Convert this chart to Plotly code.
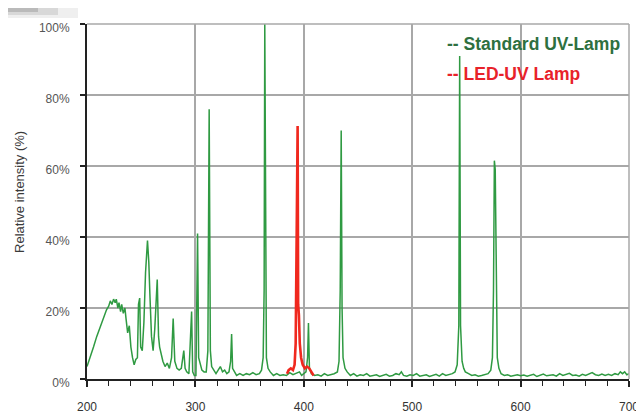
import plotly.graph_objects as go

# ---------------- data ----------------
std_wavelength = [
    200, 203, 206, 209, 212, 215, 218, 220, 221.5, 223, 224.5, 226, 227, 228.5, 229.5, 231, 232, 233.5,
    235, 236, 237.5, 239, 240.5, 242, 243.5, 245, 246.5, 247.5, 248.6, 249.5, 251, 252.5, 254, 255.8,
    257, 258, 259.5, 261, 262.5, 264.8, 266, 267, 268.5, 270, 272, 274, 276, 278, 279.5, 281, 283, 285,
    287, 289.3, 290.5, 292, 294, 295.5, 296.5, 297.5, 299, 300.5, 301.2, 302, 303, 304.5, 306, 308, 310,
    311.5, 312.7, 313.8, 315, 317, 319, 321, 323, 325, 327, 329, 331, 332.5, 333.4, 334.3, 336, 338,
    341, 344, 347, 350, 353, 356, 359, 361, 362.5, 363.4, 364, 364.7, 365.5, 367, 369, 372, 375, 378,
    381, 384, 387, 390, 393, 396, 398, 400, 402, 403.5, 404.3, 405.2, 407, 410, 413, 416, 419, 422,
    425, 428, 431, 432.5, 433.6, 434.5, 435.3, 436.2, 438, 440, 443, 446, 449, 452, 455, 458, 461, 464,
    467, 470, 473, 476, 479, 482, 485, 488, 490, 492, 495, 498, 501, 504, 507, 510, 513, 516, 519, 522,
    525, 528, 531, 534, 537, 539.5, 541.5, 543, 543.8, 544.6, 546, 547.5, 549, 552, 555, 558, 561, 564,
    567, 570, 572.5, 574, 575, 575.8, 576.6, 577.4, 578.5, 580, 582, 585, 588, 591, 594, 597, 600, 603,
    606, 609, 612, 615, 618, 621, 624, 627, 630, 633, 636, 639, 642, 645, 648, 651, 654, 657, 660, 663,
    666, 669, 672, 675, 678, 681, 684, 687, 690, 692, 694, 696, 698, 700,
]
std_intensity = [
    3.5, 6, 9, 12, 14.5, 17, 19.5, 20.5, 22, 21, 22.5, 21.5, 22.5, 20, 21.5, 19, 21, 18.5,
    20, 17, 13, 15, 9, 6, 4, 5.5, 6, 21, 22.8, 9, 8, 16, 30, 39,
    33, 24, 12, 8, 14, 28, 12, 9, 7, 5, 3.5, 4.5, 3, 6, 17, 5, 3, 2.5,
    3, 8, 3, 2, 1.5, 10, 19, 2, 1, 1, 15, 41, 6, 4, 2.5, 2, 2,
    8, 76, 8, 3.5, 2.5, 1.5, 2.5, 3.5, 2, 2.5, 1.5, 2, 5, 12.7, 3, 2, 1,
    1.5, 1, 1.5, 1.2, 1.8, 1.2, 1.5, 2.5, 6, 25, 100, 25, 6, 3, 2, 1, 1.5, 1,
    1.2, 1, 1.8, 1.2, 1.5, 2, 1, 1.5, 2, 6, 15.8, 3, 1.5, 1, 1.2, 0.8, 1.5, 1,
    1.2, 1.5, 2, 5, 25, 70, 20, 6, 3, 2, 1, 1.5, 0.8, 1.2, 1, 1.5, 0.8, 1,
    1.2, 0.7, 1, 1.3, 0.8, 1, 1.5, 1.2, 2, 1, 0.8, 1.2, 1, 1.5, 0.8, 1, 1.2, 0.7, 1, 1.3,
    0.8, 1.5, 1, 1.2, 1.5, 2, 4, 15, 91, 15, 5, 3, 2, 1.5, 1, 1.2, 0.8, 1,
    1.3, 1.5, 2.5, 6, 25, 61.5, 59, 25, 6, 3, 1.5, 1, 1.2, 0.8, 1, 1.2, 0.9, 1.1,
    0.8, 1, 1.3, 0.7, 1, 1.4, 0.9, 1, 1.2, 0.8, 1.5, 1, 1.2, 1.6, 1, 1.1, 0.8, 1.3, 1, 1.5,
    1.8, 1.2, 1, 1.4, 1, 1.3, 1, 1.5, 1.2, 2, 1.5, 2, 1.2, 1.5,
]

led_wavelength = [384.5, 386, 388, 390, 391.5, 392.5, 393.4, 393.8, 394.3, 394.8, 395.5, 396.3,
                  397.5, 399, 401, 403, 405, 407, 409]
led_intensity = [1.5, 2.5, 3, 2.5, 4, 10, 40, 71.3, 71.3, 21, 18, 10, 6, 4, 3, 3.5, 3, 2, 1]

x_ticks = [200, 300, 400, 500, 600, 700]
y_ticks = [0, 20, 40, 60, 80, 100]
y_tick_labels = ["0%", "20%", "40%", "60%", "80%", "100%"]
legend_names = ["Standard UV-Lamp", "LED-UV Lamp"]
y_title = "Relative intensity (%)"

GREEN = "#2f9a42"
RED = "#f0281e"
FONT = "Liberation Sans, Arial, sans-serif"

fig = go.Figure()
fig.add_trace(go.Scatter(x=std_wavelength, y=std_intensity, mode="lines",
                         line=dict(color=GREEN, width=1.5), name=legend_names[0],
                         showlegend=False))
fig.add_trace(go.Scatter(x=led_wavelength, y=led_intensity, mode="lines",
                         line=dict(color=RED, width=2.6), name=legend_names[1],
                         showlegend=False))

# legend drawn as text to mimic the "-- name" style
fig.add_annotation(xref="paper", yref="paper", x=0.661, y=0.944, xanchor="left", yanchor="middle",
                   text="<b>-- " + legend_names[0] + "</b>", showarrow=False,
                   font=dict(family=FONT, size=17.5, color="#2e7040"))
fig.add_annotation(xref="paper", yref="paper", x=0.661, y=0.859, xanchor="left", yanchor="middle",
                   text="<b>-- " + legend_names[1] + "</b>", showarrow=False,
                   font=dict(family=FONT, size=17.5, color="#e8222a"))

# y-axis title
fig.add_annotation(xref="paper", yref="paper", x=-67 / 542, y=0.527, xanchor="center",
                   yanchor="middle", text=y_title, textangle=-90, showarrow=False,
                   font=dict(family=FONT, size=13, color="#3a3a3a"))

# subtle dark shading in the top-left corner of the picture
for i, (w, h, op) in enumerate([(70, 10, 0.08), (50, 7, 0.12), (30, 4, 0.18)]):
    fig.add_shape(type="rect", xref="paper", yref="paper", layer="above",
                  x0=-79 / 542, x1=(-79 + w) / 542, y0=1 + (16 - h) / 355, y1=1 + 16 / 355,
                  fillcolor="#303030", opacity=op, line_width=0)

# page body has an 8px default margin, so the figure is 8px smaller than the window
fig.update_layout(
    width=636, height=406,
    margin=dict(l=79, r=15, t=16, b=35),
    paper_bgcolor="white", plot_bgcolor="white",
    font=dict(family=FONT, size=10, color="#444"),
    xaxis=dict(range=[200, 700], tickvals=x_ticks, showgrid=True, gridcolor="#a8a8a8", gridwidth=1.5,
               showline=True, linecolor="#222", linewidth=2, ticks="outside", ticklen=6,
               tickcolor="#222", tickwidth=1.5, ticklabelstandoff=10, zeroline=False,
               automargin=False,
               tickfont=dict(family=FONT, size=12, color="#333"),
               minor=dict(dtick=20, ticks="outside", ticklen=5, tickcolor="#222", tickwidth=1.2,
                          showgrid=False)),
    yaxis=dict(range=[0, 100], tickvals=y_ticks, ticktext=y_tick_labels, showgrid=True,
               gridcolor="#a8a8a8", gridwidth=1.5, showline=True, linecolor="#222", linewidth=2,
               ticks="outside", ticklen=5, tickcolor="#222", tickwidth=1.5, zeroline=False,
               automargin=False, ticklabelstandoff=8, ticklabelshift=4,
               tickfont=dict(family=FONT, size=12, color="#555")),
)
# top and right frame lines like the grid
fig.add_shape(type="line", xref="paper", yref="paper", x0=0, x1=1, y0=1, y1=1,
              line=dict(color="#a8a8a8", width=1.5))
fig.add_shape(type="line", xref="paper", yref="paper", x0=1, x1=1, y0=0, y1=1,
              line=dict(color="#a8a8a8", width=1.5))

fig.write_html("out.html")
